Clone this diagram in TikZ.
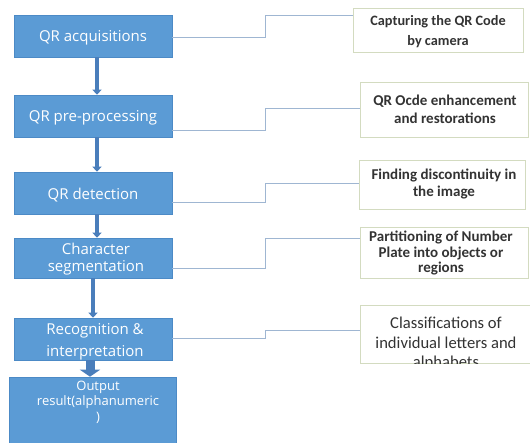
\documentclass[tikz,border=0pt]{standalone}
\usepackage{fontspec}
\setmainfont{Open Sans}
\newfontfamily\calfont{Carlito}
\usetikzlibrary{arrows.meta}
\definecolor{bluefill}{HTML}{5B9BD5}
\definecolor{blueedge}{HTML}{4C8AC6}
\definecolor{arrowc}{HTML}{4A7EBB}
\definecolor{noteedge}{HTML}{D3DBC0}
\definecolor{linec}{HTML}{9FB6D2}
\tikzset{
  stage/.style={fill=bluefill, draw=blueedge, line width=0.6pt, minimum width=158pt, inner sep=0pt},
  stagetext/.style={text=white, align=center, font=\fontsize{15}{17}\selectfont, inner sep=0pt},
  note/.style={fill=white, draw=noteedge, line width=0.8pt, inner sep=0pt},
  notetext/.style={align=center, text=black!80, inner sep=0pt},
  flow/.style={draw=arrowc, line width=4.5pt, -{Triangle[length=5pt,width=9pt]}},
  bigflow/.style={draw=arrowc, line width=9pt, -{Triangle[length=7pt,width=20pt]}},
  link/.style={draw=linec, line width=0.9pt}
}
\begin{document}
\begin{tikzpicture}[x=1pt,y=-1pt]
\clip (0,0) rectangle (530,443);
\fill[white] (0,0) rectangle (530,443);

% left stages
\node[stage, minimum height=42pt] (s1) at (93,36) {};
\node[stage, minimum height=42pt] (s2) at (93,116) {};
\node[stage, minimum height=42pt] (s3) at (93,193) {};
\node[stage, minimum height=40pt] (s4) at (93,258) {};
\node[stage, minimum height=42pt] (s5) at (93,339) {};
\node[stage, minimum width=167pt, minimum height=80pt] (s6) at (92.5,417) {};

\node[stagetext] (t1) at (93,38) {QR acquisitions};
\node[stagetext] (t2) at (93,118) {QR pre-processing};
\node[stagetext] (t3) at (93,195) {QR detection};
\node[stagetext] (t4) at (96,259) {Character\\segmentation};
\begin{scope}
  \clip (s5.north west) rectangle (s5.south east);
  \node[stagetext, font=\fontsize{15}{22}\selectfont] (t5) at (95,342) {Recognition \&\\interpretation};
\end{scope}
\node[stagetext, font=\fontsize{13}{15.5}\selectfont] (t6) at (98,402) {Output\\result(alphanumeric\\)};

% arrows
\draw[flow] (s1.south -| 97,0) -- (s2.north -| 97,0);
\draw[flow] (s2.south -| 97,0) -- (s3.north -| 97,0);
\draw[flow] (s3.south -| 97,0) -- (s4.north -| 97,0);
\draw[flow] (s4.south -| 93,0) -- (s5.north -| 93,0);
\draw[bigflow] (s5.south -| 90,0) -- (s6.north -| 90,0);

% notes
\node[note, minimum width=170pt, minimum height=44pt] (n1) at (438,30) {};
\node[note, minimum width=168pt, minimum height=55pt] (n2) at (444,109.5) {};
\node[note, minimum width=166pt, minimum height=49pt] (n3) at (442,184.5) {};
\node[note, minimum width=168pt, minimum height=51pt] (n4) at (444,252.5) {};
\node[note, minimum width=172pt, minimum height=58pt] (n5) at (446,334) {};

\node[notetext, font=\calfont\bfseries\fontsize{14.3}{20}\selectfont] (m1) at (438,32) {Capturing the QR Code\\by camera};
\node[notetext, font=\calfont\bfseries\fontsize{15}{18}\selectfont] (m2) at (445,109) {QR Ocde enhancement\\and restorations};
\node[notetext, font=\calfont\bfseries\fontsize{15}{17}\selectfont] (m3) at (444,183.5) {Finding discontinuity in\\the image};
\node[notetext, font=\calfont\bfseries\fontsize{15}{15.5}\selectfont] (m4) at (441,253) {Partitioning of Number\\Plate into objects or\\regions};
\begin{scope}
  \clip (n5.north west) rectangle (n5.south east);
  \node[notetext, font=\calfont\fontsize{16.6}{19.5}\selectfont] (m5) at (446,344) {Classifications of\\individual letters and\\alphabets};
\end{scope}

% links
\coordinate (k1) at (265,0);
\draw[link] (s1.east |- 0,37) -| (k1 |- 0,15) -- (n1.west |- 0,15);
\draw[link] (s2.east |- 0,130) -| (k1 |- 0,108) -- (n2.west |- 0,108);
\draw[link] (s3.east |- 0,202) -| (k1 |- 0,183) -- (n3.west |- 0,183);
\draw[link] (s4.east |- 0,268) -| (k1 |- 0,238) -- (n4.west |- 0,238);
\draw[link] (s5.east |- 0,338) -| (k1 |- 0,330) -- (n5.west |- 0,330);
\end{tikzpicture}
\end{document}
